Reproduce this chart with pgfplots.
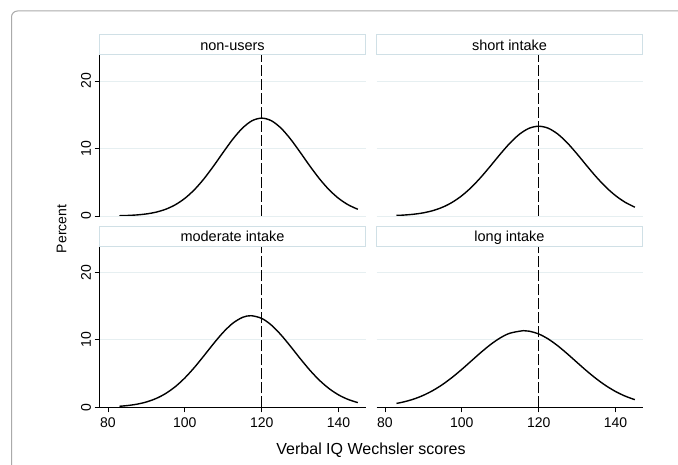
\documentclass[border=0pt]{standalone}
\usepackage{fontspec}
\setmainfont{Liberation Sans}
\usepackage{pgfplots}
\pgfplotsset{compat=1.18}

\definecolor{gridc}{RGB}{230,239,241}
\definecolor{stripc}{RGB}{208,224,230}
\definecolor{framec}{RGB}{170,170,170}

\pgfplotsset{
  panel/.style={
    scale only axis, width=266pt, height=161pt,
    xmin=77.8, xmax=147, ymin=0, ymax=23.85,
    xtick={80,100,120,140}, ytick={0,10,20},
    ymajorgrids, grid style={gridc, line width=0.8pt},
    axis x line*=bottom, axis y line*=left,
    axis line style={-, black, line width=0.7pt},
    tick align=outside, major tick length=5pt,
    tick style={black, line width=0.7pt},
    /pgf/number format/assume math mode=true,
    ticklabel style={font=\fontsize{14}{14}\selectfont},
    yticklabel style={rotate=90, anchor=south, xshift=0pt},
    xticklabel style={yshift=-2pt},
  },
  nox/.style={x axis line style={draw=none}, xtick=\empty},
  noy/.style={y axis line style={draw=none}, ytick style={draw=none}, yticklabels={}},
  curve/.style={black, line width=1.4pt, smooth},
  ref/.style={black, line width=0.8pt, dash pattern=on 11pt off 3pt},
}

\begin{document}
\begin{tikzpicture}

% outer frame (cropped on right and bottom)
\draw[framec, line width=1pt, rounded corners=6pt] (690pt,454pt) -- (11.5pt,454pt) -- (11.5pt,-5pt);

% non-users
\begin{axis}[panel, nox, at={(99.5pt,249pt)}, anchor=south west]
  \addplot[curve] coordinates {
    (83,0.041) (85,0.076) (87.5,0.157) (90,0.306) (92.5,0.567) (95,0.995)
    (97.5,1.656) (100,2.610) (102.5,3.901) (105,5.527) (107.5,7.421) (110,9.445)
    (112.5,11.393) (115,13.026) (117.5,14.117) (120,14.5) (122.5,14.117) (125,13.026)
    (127.5,11.393) (130,9.445) (132.5,7.421) (135,5.527) (137.5,3.901) (140,2.610)
    (142.5,1.656) (145,0.995)
  };
  \addplot[ref] coordinates {(120,0) (120,23.85)};
\end{axis}

% short intake
\begin{axis}[panel, nox, noy, at={(376.5pt,249pt)}, anchor=south west]
  \addplot[curve] coordinates {
    (83,0.082) (85,0.140) (87.5,0.263) (90,0.469) (92.5,0.801) (95,1.304)
    (97.5,2.027) (100,3.009) (102.5,4.262) (105,5.765) (107.5,7.442) (110,9.172)
    (112.5,10.792) (115,12.120) (117.5,12.995) (120,13.3) (122.5,12.995) (125,12.120)
    (127.5,10.792) (130,9.172) (132.5,7.442) (135,5.765) (137.5,4.262) (140,3.009)
    (142.5,2.027) (145,1.304)
  };
  \addplot[ref] coordinates {(120,0) (120,23.85)};
\end{axis}

% moderate intake
\begin{axis}[panel, at={(99.5pt,57.7pt)}, anchor=south west]
  \addplot[curve] coordinates {
    (83,0.151) (85,0.251) (87.5,0.456) (90,0.788) (92.5,1.298) (95,2.038)
    (97.5,3.049) (100,4.348) (102.5,5.909) (105,7.654) (107.5,9.449) (110,11.117)
    (112.5,12.464) (115,13.320) (117.2,13.57) (120,13.167) (122.5,12.180) (125,10.738)
    (127.5,9.022) (130,7.225) (132.5,5.514) (135,4.010) (137.5,2.780) (140,1.837)
    (142.5,1.156) (145,0.694)
  };
  \addplot[ref] coordinates {(120,0) (120,23.85)};
\end{axis}

% long intake
\begin{axis}[panel, noy, at={(376.5pt,57.7pt)}, anchor=south west]
  \addplot[curve] coordinates {
    (83,0.572) (85,0.813) (87.5,1.222) (90,1.777) (92.5,2.495) (95,3.385)
    (97.5,4.438) (100,5.623) (102.5,6.884) (105,8.144) (107.5,9.309) (110,10.283)
    (112.5,10.975) (116,11.35) (117.5,11.280) (120,10.863) (122.5,10.108) (125,9.088)
    (127.5,7.896) (130,6.629) (132.5,5.378) (135,4.216) (137.5,3.193) (140,2.337)
    (142.5,1.653) (145,1.129)
  };
  \addplot[ref] coordinates {(120,0) (120,23.85)};
\end{axis}

% strip headers
\begin{scope}[every node/.style={font=\fontsize{14.5}{14.5}\selectfont, anchor=base}]
  \draw[stripc, line width=1pt, fill=white] (99.5pt,410pt) rectangle (365.5pt,430pt);
  \node at (232.5pt,414.8pt) {non-users};
  \draw[stripc, line width=1pt, fill=white] (376.5pt,410pt) rectangle (642.5pt,430pt);
  \node at (509.5pt,414.8pt) {short intake};
  \draw[stripc, line width=1pt, fill=white] (99.5pt,218.7pt) rectangle (365.5pt,238.5pt);
  \node at (232.5pt,223.4pt) {moderate intake};
  \draw[stripc, line width=1pt, fill=white] (376.5pt,218.7pt) rectangle (642.5pt,238.5pt);
  \node at (509.5pt,223.4pt) {long intake};
\end{scope}

% axis titles
\node[anchor=base, font=\fontsize{16}{16}\selectfont] at (371pt,10.2pt) {Verbal IQ Wechsler scores};
\node[rotate=90, font=\fontsize{14}{14}\selectfont] at (61.7pt,236pt) {Percent};

\pgfresetboundingbox
\useasboundingbox (0,0) rectangle (678pt,465pt);
\end{tikzpicture}
\end{document}
